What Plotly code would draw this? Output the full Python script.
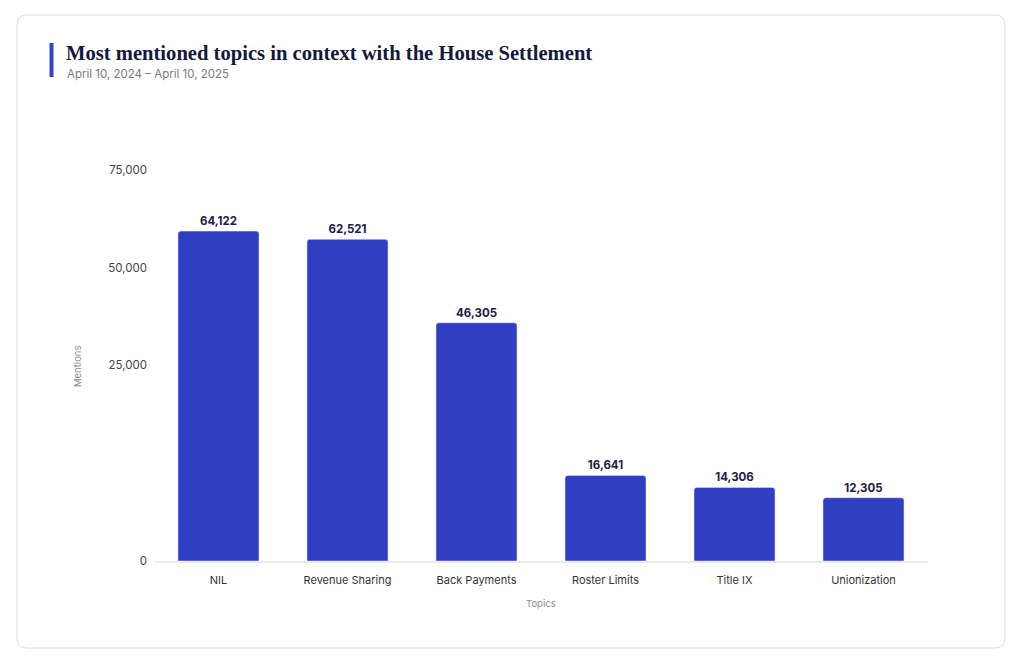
import plotly.graph_objects as go

# data
topics = ["NIL", "Revenue Sharing", "Back Payments", "Roster Limits", "Title IX", "Unionization"]
mentions = [64122, 62521, 46305, 16641, 14306, 12305]

# the reference axis labels sit at uneven spots; these are where they appear
tick_pos = [0, 38100, 56900, 76000]
tick_labels = ["0", "25,000", "50,000", "75,000"]

W, H = 1024, 666
OFF = 8  # page body margin
L, R, T, B = 154 - OFF, 928 - OFF, 170 - OFF, 561 - OFF  # plot area in pixels


def px_x(p):
    return (p - OFF - L) / (R - L)


def px_y(p):
    return (B - (p - OFF)) / (B - T)


def rounded_rect(x0, y0, x1, y1, r):
    pts = [
        f"M {px_x(x0 + r)} {px_y(y0)}",
        f"L {px_x(x1 - r)} {px_y(y0)}",
        f"Q {px_x(x1)} {px_y(y0)} {px_x(x1)} {px_y(y0 + r)}",
        f"L {px_x(x1)} {px_y(y1 - r)}",
        f"Q {px_x(x1)} {px_y(y1)} {px_x(x1 - r)} {px_y(y1)}",
        f"L {px_x(x0 + r)} {px_y(y1)}",
        f"Q {px_x(x0)} {px_y(y1)} {px_x(x0)} {px_y(y1 - r)}",
        f"L {px_x(x0)} {px_y(y0 + r)}",
        f"Q {px_x(x0)} {px_y(y0)} {px_x(x0 + r)} {px_y(y0)} Z",
    ]
    return " ".join(pts)


sans = "Inter, Lato, sans-serif"

fig = go.Figure(go.Bar(
    x=topics,
    y=mentions,
    marker=dict(color="#2F3EC2", cornerradius=3),
    text=[f"{v:,}" for v in mentions],
    textposition="outside",
    textfont=dict(family=sans, size=11.5, color="#1B2140", weight="bold"),
    cliponaxis=False,
))

fig.update_layout(
    width=W, height=H,
    margin=dict(l=L, r=W - R, t=T, b=H - B),
    paper_bgcolor="white", plot_bgcolor="white",
    bargap=0.372,
    showlegend=False,
    font=dict(family=sans),
    shapes=[
        dict(type="path", xref="paper", yref="paper",
             path=rounded_rect(17, 15, 1005, 648, 10),
             line=dict(color="#DCDCDC", width=1), layer="below"),
        dict(type="line", xref="paper", yref="paper",
             x0=px_x(51.5), x1=px_x(51.5), y0=px_y(43), y1=px_y(77),
             line=dict(color="#3343D0", width=4)),
    ],
    annotations=[
        dict(text="<b>Most mentioned topics in context with the House Settlement</b>",
             xref="paper", yref="paper", x=px_x(64), y=px_y(53),
             xanchor="left", yanchor="middle", showarrow=False,
             font=dict(family="Liberation Serif, serif", size=20.6, color="#141A3A")),
        dict(text="April 10, 2024 – April 10, 2025",
             xref="paper", yref="paper", x=px_x(65), y=px_y(74),
             xanchor="left", yanchor="middle", showarrow=False,
             font=dict(family=sans, size=11.5, color="#7A7A7A")),
        dict(text="Mentions", textangle=-90,
             xref="paper", yref="paper", x=px_x(77), y=px_y(367),
             xanchor="center", yanchor="middle", showarrow=False,
             font=dict(family=sans, size=9.5, color="#8A8A8A")),
        dict(text="Topics",
             xref="paper", yref="paper", x=px_x(541), y=px_y(603),
             xanchor="center", yanchor="middle", showarrow=False,
             font=dict(family=sans, size=9.5, color="#8A8A8A")),
    ],
)

fig.update_xaxes(
    showgrid=False, showline=True, linecolor="#EBEBEB", linewidth=2,
    ticks="", tickfont=dict(family=sans, size=11, color="#333333"),
    ticklabelstandoff=8,
)
fig.update_yaxes(
    range=[0, 76000], showgrid=False, zeroline=False, showline=False,
    tickvals=tick_pos, ticktext=tick_labels, ticks="",
    tickfont=dict(family=sans, size=11.5, color="#444444"),
    ticklabelstandoff=6,
)

fig.write_html("out.html")
